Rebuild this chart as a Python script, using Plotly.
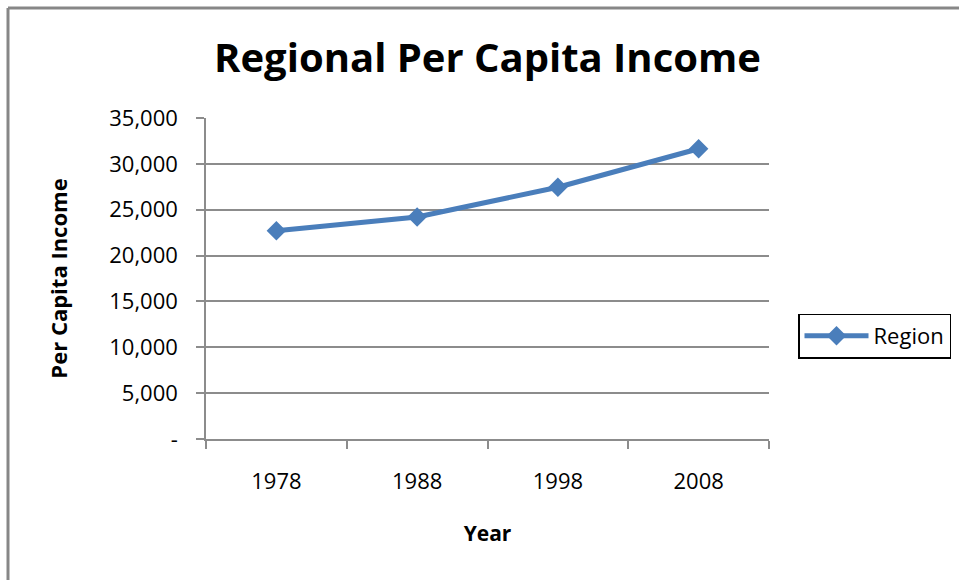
import plotly.graph_objects as go

years = ["1978", "1988", "1998", "2008"]
income = [22700, 24200, 27450, 31650]
ytick_vals = [0, 5000, 10000, 15000, 20000, 25000, 30000, 35000]
ytick_text = ["-", "5,000", "10,000", "15,000", "20,000", "25,000", "30,000", "35,000"]
series_name = "Region"

W, H = 959, 580
L, R, T, B = 206, 769, 118, 439  # plot area pixels

def px_x(x):
    return (x - L) / (R - L)

def px_y(y):
    return (B - y) / (B - T)

fig = go.Figure()
fig.add_trace(go.Scatter(
    x=years, y=income, name=series_name, mode="lines+markers",
    line=dict(color="#4A7EBB", width=5),
    marker=dict(symbol="diamond", size=15, color="#4A7EBB"),
    showlegend=True,
))

grid = "#8C8C8C"
fig.update_layout(
    width=W, height=H,
    margin=dict(l=L, r=W - R, t=T, b=H - B, autoexpand=False),
    paper_bgcolor="white", plot_bgcolor="white",
    font=dict(family="Open Sans", color="black"),
    title=dict(text="<b>Regional Per Capita Income</b>", x=0.5, xanchor="center",
               xref="paper", y=1 - 58 / H, yanchor="middle", yref="container",
               font=dict(size=40, family="Open Sans", color="black")),
    xaxis=dict(type="category", range=[-0.5, 3.5], tickson="boundaries",
               showgrid=False, showline=True, linecolor=grid, linewidth=1.5,
               ticks="outside", ticklen=8, tickcolor=grid, tickwidth=1.5,
               tickfont=dict(size=22, family="Open Sans"), ticklabelstandoff=22,
               title=dict(text="<b>Year</b>", font=dict(size=21, family="Open Sans"), standoff=32),
               zeroline=False, fixedrange=True),
    yaxis=dict(range=[0, 35000], tickvals=ytick_vals, ticktext=ytick_text,
               showgrid=True, gridcolor=grid, gridwidth=1.5,
               showline=True, linecolor=grid, linewidth=1.5,
               ticks="outside", ticklen=8, tickcolor=grid, tickwidth=1.5,
               tickfont=dict(size=22, family="Open Sans"), ticklabelstandoff=14,
               title=dict(text="<b>Per Capita Income</b>", font=dict(size=22, family="Open Sans"), standoff=36),
               zeroline=False, fixedrange=True),
    legend=dict(x=px_x(798), xanchor="left", y=px_y(336), yanchor="middle",
                bordercolor="black", borderwidth=1.5, bgcolor="white",
                font=dict(size=22, family="Open Sans"), itemwidth=64,
                tracegroupgap=0),
    showlegend=True,
)

# outer chart border (gray), left and top edges visible
fig.add_shape(type="line", xref="paper", yref="paper",
              x0=px_x(8), x1=px_x(8), y0=px_y(590), y1=px_y(8),
              line=dict(color="#878787", width=3))
fig.add_shape(type="line", xref="paper", yref="paper",
              x0=px_x(8), x1=px_x(970), y0=px_y(8), y1=px_y(8),
              line=dict(color="#878787", width=3))

fig.write_html("out.html", config={"displayModeBar": False},
               post_script="document.body.style.margin='0';document.body.style.overflow='hidden';")
